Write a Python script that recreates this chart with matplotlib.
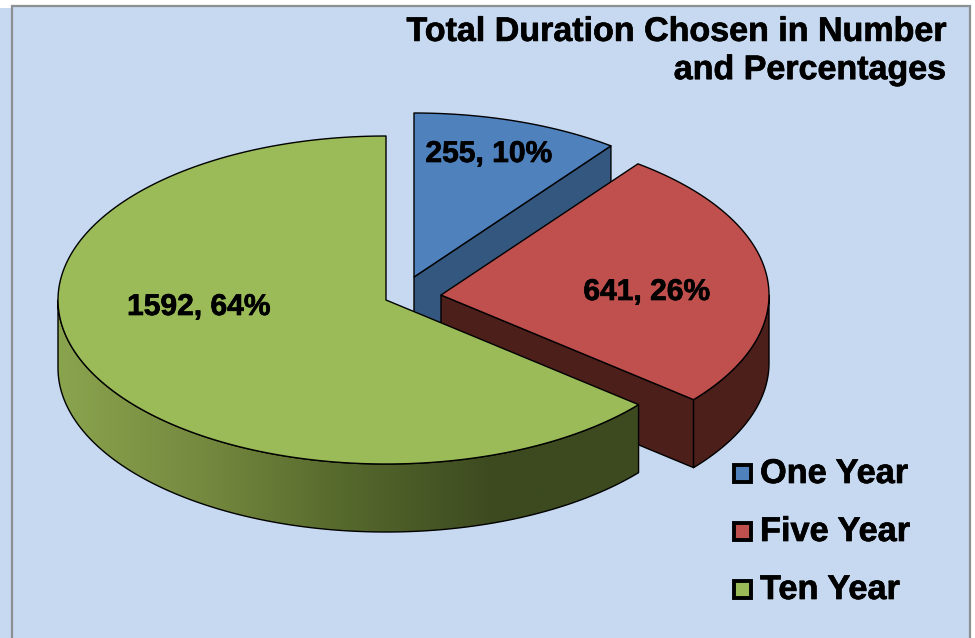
"""Exploded 3D style pie of the total duration chosen."""

import matplotlib

matplotlib.use("Agg")
import matplotlib.patheffects as pe
import matplotlib.pyplot as plt
import numpy as np
from matplotlib.colors import LinearSegmentedColormap
from matplotlib.patches import Polygon, Rectangle

categories = ["One Year", "Five Year", "Ten Year"]
counts = [255, 641, 1592]
percents = [10, 26, 64]
title = "Total Duration Chosen in Number\nand Percentages"

BACKGROUND = "#c6d9f0"
TOPS = ["#4f81bd", "#c0504d", "#9bbb59"]
SIDES = ["#34577f", "#4d1f1b", "#3d4a20"]
CENTERS = [(414, 277), (441, 295), (386, 300)]
LABEL_POS = [(489, 154), (647, 292), (199, 307)]
RX, RY, DEPTH = 328, 164, 68

plt.rcParams["font.family"] = ["Liberation Sans", "DejaVu Sans"]
HEAVY = [pe.withStroke(linewidth=0.5, foreground="black")]


def rim(center, start, stop):
    """Points along the ellipse, angles clockwise from twelve o'clock."""
    t = np.linspace(start, stop, 200)
    return np.column_stack(
        [center[0] + RX * np.sin(t), center[1] - RY * np.cos(t)])


def wall(points):
    """Turn a top edge into a closed vertical wall."""
    return np.vstack([points, points[::-1] + [0, DEPTH]])


fig = plt.figure(figsize=(9.75, 6.38), dpi=100, facecolor="white")
ax = fig.add_axes([0, 0, 1, 1])
ax.set_xlim(0, 975)
ax.set_ylim(638, 0)
ax.axis("off")

# page background and the grey chart frame
ax.add_patch(Rectangle((0, 8), 971, 630, fc=BACKGROUND, ec="none", zorder=0))
ax.add_patch(Rectangle((12, 6), 958, 640, fc=BACKGROUND, ec="#8c8f94",
                       lw=1.6, zorder=0.5))

edges = np.cumsum([0] + counts) / sum(counts) * 2 * np.pi
edge_style = dict(ec="black", lw=1.0, joinstyle="round")

# blue slice, sits furthest back
c = CENTERS[0]
a, b = edges[0], edges[1]
ax.add_patch(Polygon(wall(np.array([c, rim(c, b, b)[0]])), fc=SIDES[0],
                     zorder=1, **edge_style))
ax.add_patch(Polygon(np.vstack([[c], rim(c, a, b)]), fc=TOPS[0], zorder=1.1,
                     **edge_style))

# red slice
c = CENTERS[1]
a, b = edges[1], edges[2]
ax.add_patch(Polygon(wall(np.array([c, rim(c, b, b)[0]])), fc=SIDES[1],
                     zorder=2, **edge_style))
ax.add_patch(Polygon(wall(rim(c, np.pi / 2, b)), fc=SIDES[1], zorder=2.1,
                     **edge_style))
ax.add_patch(Polygon(np.vstack([[c], rim(c, a, b)]), fc=TOPS[1], zorder=2.2,
                     **edge_style))

# green slice, the front wall fades from left to right
c = CENTERS[2]
a, b = edges[2], edges[3]
front = wall(rim(c, a, 1.5 * np.pi)[::-1])
shade = LinearSegmentedColormap.from_list(
    "shade", ["#8aa44e", "#75893f", "#55682c", SIDES[2], SIDES[2]])
clip = Polygon(front, fc="none", ec="none", zorder=3)
ax.add_patch(clip)
image = ax.imshow(np.linspace(0, 1, 256)[None, :], cmap=shade, aspect="auto",
                  extent=(c[0] - RX, c[0] + RX * np.sin(a),
                          c[1] + RY + DEPTH, c[1]), zorder=3)
image.set_clip_path(clip)
ax.set_xlim(0, 975)
ax.set_ylim(638, 0)
ax.add_patch(Polygon(front, fc="none", zorder=3.1, **edge_style))
ax.add_patch(Polygon(np.vstack([[c], rim(c, a, 2 * np.pi)]), fc=TOPS[2],
                     zorder=3.2, **edge_style))

for pos, count, pct in zip(LABEL_POS, counts, percents):
    ax.text(pos[0], pos[1], f"{count}, {pct}%", fontsize=21.6, weight="bold",
            ha="center", va="center", zorder=5, path_effects=HEAVY)

ax.text(946, 51.5, title, fontsize=24.5, weight="bold", ha="right",
        va="center", linespacing=1.3, zorder=5, path_effects=HEAVY)

# legend
for i, name in enumerate(categories):
    y = 473 + 58 * i
    ax.add_patch(Rectangle((734, y - 8.5), 17, 17, fc=TOPS[i], ec="black",
                           lw=2.8, zorder=5))
    ax.text(760, y + 1.5, name, fontsize=24.7, weight="bold", ha="left",
            va="center", zorder=5, path_effects=HEAVY)

fig.savefig("out.png", dpi=100, facecolor="white")
